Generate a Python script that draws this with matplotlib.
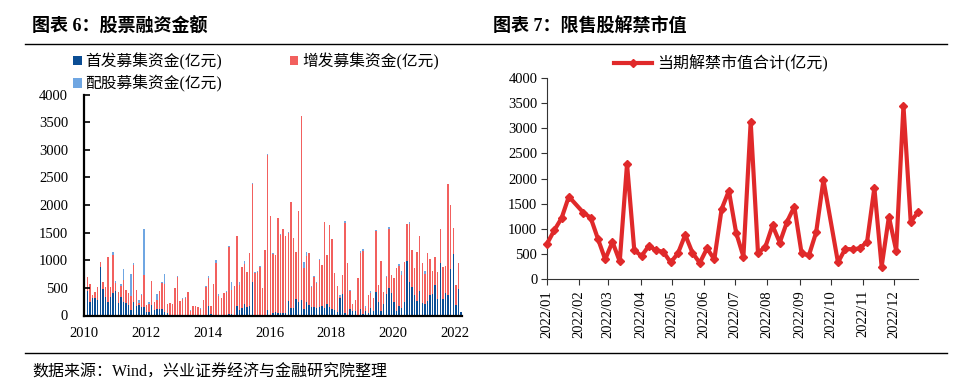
import numpy as np
import pandas as pd
import matplotlib
matplotlib.use("Agg")
import matplotlib.pyplot as plt
import matplotlib.dates as mdates
from matplotlib.lines import Line2D

plt.rcParams['font.family'] = ['Liberation Serif', 'Noto Sans CJK SC']
plt.rcParams['axes.unicode_minus'] = False

# Left chart: monthly equity financing, 2010-2022 (亿元)
ipo = [440, 250, 320, 320, 280, 885, 480, 335, 250, 340, 415, 440, 220, 335, 250, 220,
       190, 100, 245, 178, 190, 160, 160, 70, 70, 190, 100, 110, 118, 118, 70, 40,
       0, 0, 0, 0,
       0, 0, 0, 0, 0, 0, 0, 0, 0, 0, 0, 172, 20, 0, 0, 0,
       0, 0, 0, 20, 20, 0, 178, 100, 130, 208, 160, 172, 607, 0,
       0, 0, 0, 0, 100, 0,
       40, 69, 40, 45, 40, 45, 263, 136, 136, 299, 245, 275, 112, 245, 184, 154,
       148, 136, 148, 172, 136, 208, 148, 118, 100, 57, 311, 390, 45, 0, 118, 82,
       82, 0, 118, 30,
       88, 40, 130, 82, 426, 245, 82, 208, 396, 498, 408, 250, 75, 178, 130, 245,
       994, 607, 522, 377, 257, 444, 226, 214, 263, 371, 383, 553, 299, 957, 299, 402,
       371, 842, 1114, 190, 480, 57]
seo = [260, 320, 60, 100, 240, 85, 127, 187, 810, 180, 680, 145, 205, 200, 395, 240,
       210, 260, 670, 284, 42, 205, 574, 126, 138, 435, 145, 170, 326, 477, 500, 168,
       220, 208, 492, 703,
       263, 299, 317, 426, 75, 172, 172, 154, 118, 280, 522, 514, 150, 570, 945, 359,
       317, 408, 432, 1227, 442, 540, 1262, 453, 755, 719, 622, 966, 1769, 776,
       794, 885, 504, 1187, 2802, 1809,
       1074, 1027, 1727, 1414, 1527, 1402, 1232, 1920, 1268, 852, 1655, 3340, 755, 839, 949, 369,
       544, 447, 864, 743, 1564, 888, 1492, 1268, 673, 478, 30, 344, 1625, 951, 320, 132,
       199, 680, 1009, 1133,
       42, 331, 278, 235, 1105, 302, 906, 218, 307, 1069, 326, 436, 792, 724, 604, 724,
       664, 1057, 665, 483, 893, 996, 725, 538, 869, 659, 423, 507, 489, 610, 580, 495,
       2012, 1166, 471, 369, 471, 12]
rights = [0, 0, 0, 0, 0, 0, 0, 0, 0, 0, 55, 40, 0, 35, 200, 0,
          0, 390, 35, 0, 43, 25, 833, 0, 37, 0, 0, 110, 0, 18, 175, 0,
          0, 0, 13, 17,
          0, 18, 24, 0, 25, 0, 0, 0, 12, 0, 20, 34, 10, 0, 60, 37,
          0, 0, 15, 15, 145, 0, 0, 54, 0, 60, 13, 0, 31, 18,
          12, 12, 0, 0, 24, 0,
          19, 0, 0, 18, 0, 0, 18, 0, 0, 0, 0, 0, 103, 67, 0, 18,
          24, 30, 12, 0, 0, 0, 0, 0, 0, 0, 36, 0, 42, 0, 24, 0,
          0, 0, 42, 42,
          42, 0, 36, 0, 24, 0, 0, 0, 17, 36, 0, 0, 0, 31, 72, 0,
          0, 30, 0, 0, 0, 0, 0, 54, 0, 0, 0, 0, 0, 0, 0, 0,
          0, 0, 0, 0, 0, 0]
year_labels = ['2010', '2012', '2014', '2016', '2018', '2020', '2022']

# Right chart: weekly unlock value 2022 (亿元)
unlock_dates = ['01-01', '01-08', '01-15', '01-22', '02-05', '02-12', '02-19', '02-26',
                '03-05', '03-12', '03-19', '03-26', '04-02', '04-09', '04-16', '04-23',
                '04-30', '05-07', '05-14', '05-21', '05-28', '06-04', '06-11', '06-18',
                '06-25', '07-02', '07-09', '07-16', '07-23', '07-30', '08-06', '08-13',
                '08-20', '08-27', '09-03', '09-10', '09-17', '09-24', '10-08', '10-15',
                '10-22', '10-29', '11-05', '11-12', '11-19', '11-26', '12-03', '12-10',
                '12-17', '12-24']
unlock_vals = [700, 970, 1210, 1640, 1320, 1220, 800, 390, 740, 350, 2290, 570,
               460, 660, 570, 540, 330, 510, 880, 520, 320, 610, 390, 1390,
               1755, 920, 445, 3130, 525, 630, 1065, 725, 1140, 1440, 510, 470,
               930, 1970, 330, 600, 590, 610, 740, 1815, 245, 1240, 565, 3450,
               1135, 1330]

W, H = 972, 389
fig = plt.figure(figsize=(W / 100, H / 100), dpi=100)


def fx(px):
    return px / W


def fy(py):
    return 1 - py / H


# Titles, rules and source note
fig.text(fx(32), fy(27), '图表 6：股票融资金额', fontsize=13, fontweight='bold', va='center')
fig.text(fx(493), fy(27), '图表 7：限售股解禁市值', fontsize=13, fontweight='bold', va='center')
fig.add_artist(Line2D([fx(25), fx(947)], [fy(43.5)] * 2, lw=1.0, color='black'))
fig.add_artist(Line2D([fx(25), fx(947)], [fy(353)] * 2, lw=1.0, color='black'))
fig.text(fx(32), fy(373), '数据来源：Wind，兴业证券经济与金融研究院整理', fontsize=11.5, va='center')

# ---- Left: stacked bars
ax1 = fig.add_axes([fx(84), fy(315.5), fx(462 - 84), (315.5 - 94.7) / H])
x = np.arange(len(ipo))
ipo_a, seo_a, rights_a = np.array(ipo), np.array(seo), np.array(rights)
b1 = ax1.bar(x, ipo_a, width=0.55, color='#0b4d94', linewidth=0)
b2 = ax1.bar(x, seo_a, bottom=ipo_a, width=0.55, color='#f2605e', linewidth=0)
b3 = ax1.bar(x, rights_a, bottom=ipo_a + seo_a, width=0.55, color='#6fa6e2', linewidth=0)
ax1.set_xlim(-0.8, 145.4)
ax1.set_ylim(0, 4000)
ax1.set_yticks(np.arange(0, 4001, 500))
ax1.set_xticks(np.arange(len(year_labels)) * 24 - 1.3)
ax1.set_xticklabels(year_labels)
for s in ['top', 'right']:
    ax1.spines[s].set_visible(False)
for s in ['left', 'bottom']:
    ax1.spines[s].set_linewidth(1.6)
ax1.tick_params(axis='y', direction='in', length=4, width=1.2, pad=11.5, labelsize=10.5)
ax1.tick_params(axis='x', length=0, pad=8, labelsize=10.5)
leg1 = ax1.legend([b1, b3, b2], ['首发募集资金(亿元)', '配股募集资金(亿元)', '增发募集资金(亿元)'],
                  ncol=2, loc='upper left', bbox_to_anchor=(fx(73), fy(53)),
                  bbox_transform=fig.transFigure, frameon=False, fontsize=11.3,
                  handlelength=0.55, handleheight=0.55, handletextpad=0.25,
                  columnspacing=4.3, labelspacing=0.33, borderpad=0, borderaxespad=0)

# ---- Right: weekly unlock line
ax2 = fig.add_axes([fx(547), fy(279), fx(918 - 547), (279 - 78) / H])
dates = pd.to_datetime(['2022-' + d for d in unlock_dates])
ax2.plot(dates, unlock_vals, color='#e0292a', lw=3, marker='D', markersize=4.5,
         label='当期解禁市值合计(亿元)', clip_on=False, zorder=3)
ax2.set_xlim(pd.Timestamp('2022-01-01'), pd.Timestamp('2022-12-24'))
ax2.set_ylim(0, 4000)
ax2.set_yticks(np.arange(0, 4001, 500))
ax2.xaxis.set_major_locator(mdates.MonthLocator())
ax2.xaxis.set_major_formatter(mdates.DateFormatter('%Y/%m'))
for s in ['top', 'right']:
    ax2.spines[s].set_visible(False)
for s in ['left', 'bottom']:
    ax2.spines[s].set_linewidth(0.8)
    ax2.spines[s].set_color('#333333')
ax2.tick_params(axis='both', direction='out', length=4, width=0.8, color='#333333', labelsize=10.5)
ax2.tick_params(axis='y', pad=3)
ax2.tick_params(axis='x', pad=4, rotation=90)
ax2.legend(loc='upper left', bbox_to_anchor=(fx(614), fy(55)), bbox_transform=fig.transFigure,
           frameon=False, fontsize=11.5, handlelength=2.4, handletextpad=0.3,
           borderpad=0, borderaxespad=0)

fig.savefig('out.png', dpi=100)
